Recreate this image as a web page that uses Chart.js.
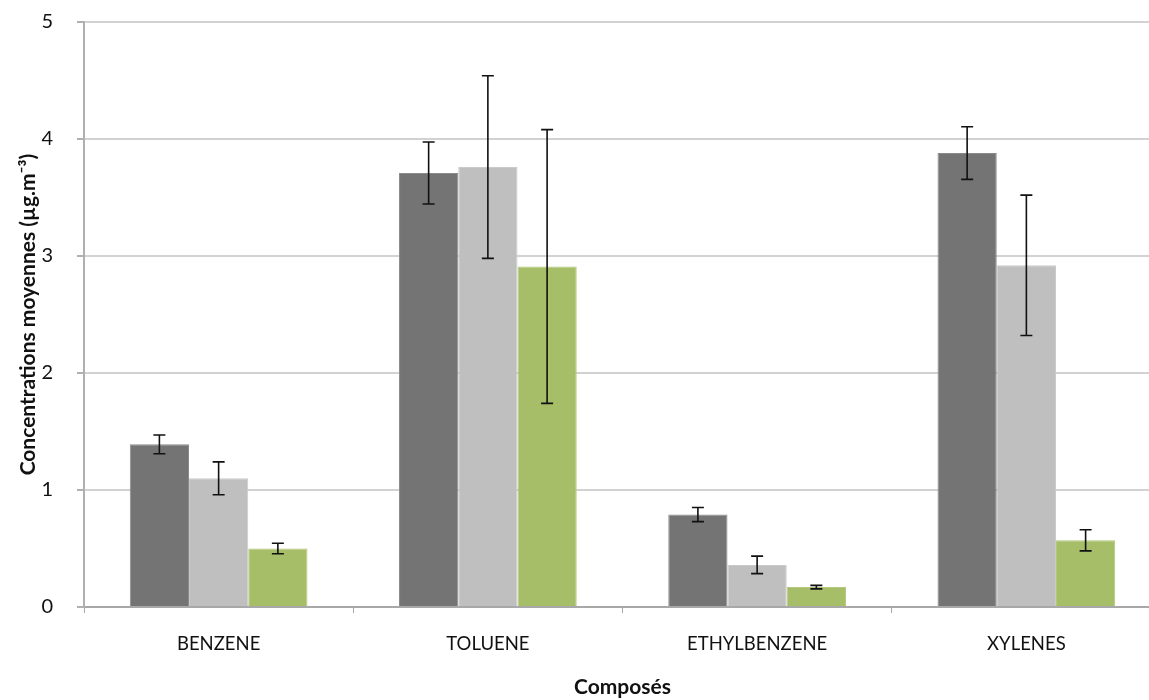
<!DOCTYPE html>
<html>
<head>
<meta charset="utf-8">
<script src="https://cdn.jsdelivr.net/npm/chart.js@4"></script>
<style>
  html, body { margin: 0; padding: 0; background: #fff; overflow: hidden; }
</style>
</head>
<body>
<canvas id="compChart" width="1170" height="700"></canvas>
<script>
const categories = ["BENZENE", "TOLUENE", "ETHYLBENZENE", "XYLENES"];
const seriesA = [1.39, 3.71, 0.79, 3.88];
const errorsA = [0.08, 0.265, 0.06, 0.225];
const seriesB = [1.10, 3.76, 0.36, 2.92];
const errorsB = [0.14, 0.78, 0.075, 0.60];
const seriesC = [0.50, 2.91, 0.17, 0.57];
const errorsC = [0.045, 1.17, 0.015, 0.09];
const yTicks = [0, 1, 2, 3, 4, 5];

const fontFamily = "Lato, 'Open Sans', sans-serif";

// draws the error bars from the datasets' own scales
const errorBarsPlugin = {
  id: "errorBars",
  afterDatasetsDraw(chart) {
    const ctx = chart.ctx;
    const yScale = chart.scales.y;
    ctx.save();
    ctx.strokeStyle = "#111";
    ctx.lineWidth = 1.6;
    chart.data.datasets.forEach((ds, i) => {
      const meta = chart.getDatasetMeta(i);
      meta.data.forEach((bar, j) => {
        const v = ds.data[j];
        const e = ds.errors[j];
        const yTop = yScale.getPixelForValue(v + e);
        const yBot = yScale.getPixelForValue(v - e);
        const x = bar.x;
        ctx.beginPath();
        ctx.moveTo(x, yTop);
        ctx.lineTo(x, yBot);
        ctx.moveTo(x - 6, yTop);
        ctx.lineTo(x + 6, yTop);
        ctx.moveTo(x - 6, yBot);
        ctx.lineTo(x + 6, yBot);
        ctx.stroke();
      });
    });
    ctx.restore();
  }
};

const compData = {
  labels: categories,
  datasets: [
    {
      label: "A",
      data: seriesA,
      errors: errorsA,
      backgroundColor: "#747474",
      borderColor: "#8a8a8a",
      borderWidth: 1,
    },
    {
      label: "B",
      data: seriesB,
      errors: errorsB,
      backgroundColor: "#bfbfbf",
      borderColor: "#cacaca",
      borderWidth: 1,
    },
    {
      label: "C",
      data: seriesC,
      errors: errorsC,
      backgroundColor: "#a7be69",
      borderColor: "#b3c87c",
      borderWidth: 1,
    },
  ],
};

const compConfig = {
  type: "bar",
  data: compData,
  plugins: [errorBarsPlugin],
  options: {
    responsive: false,
    animation: false,
    layout: { padding: { top: 22, right: 9, bottom: 0, left: 0 } },
    datasets: {
      bar: { categoryPercentage: 0.66, barPercentage: 1.0 },
    },
    plugins: {
      legend: { display: false },
      tooltip: { enabled: false },
    },
    scales: {
      x: {
        grid: {
          display: true,
          drawOnChartArea: false,
          drawTicks: true,
          tickLength: 6,
          color: "#a8a8a8",
        },
        border: { color: "#a8a8a8", width: 2 },
        ticks: {
          color: "#111",
          padding: 20,
          font: { family: fontFamily, size: 18.5 },
        },
        title: {
          display: true,
          text: "Composés",
          color: "#111",
          font: { family: fontFamily, size: 21, weight: "bold" },
          padding: { top: 14, bottom: 0 },
        },
        afterFit(scale) { scale.height = 93; },
      },
      y: {
        min: 0,
        max: 5,
        afterBuildTicks(scale) {
          scale.ticks = yTicks.map(v => ({ value: v }));
        },
        grid: {
          color: "#d2d2d2",
          lineWidth: 2,
          drawTicks: true,
          tickLength: 7,
          tickColor: "#b0b0b0",
        },
        border: { color: "#b0b0b0", width: 2 },
        ticks: {
          color: "#111",
          padding: 24,
          font: { family: fontFamily, size: 20 },
        },
        title: {
          display: true,
          text: "Concentrations moyennes (µg.m⁻³)",
          color: "#111",
          font: { family: fontFamily, size: 21, weight: "bold" },
          padding: { top: 16, bottom: 0 },
        },
        afterFit(scale) {
          scale.width = 84;
          scale.paddingTop = 0;
          scale.paddingBottom = 0;
        },
      },
    },
  },
};

const compChart = new Chart(document.getElementById("compChart"), compConfig);
</script>
</body>
</html>
